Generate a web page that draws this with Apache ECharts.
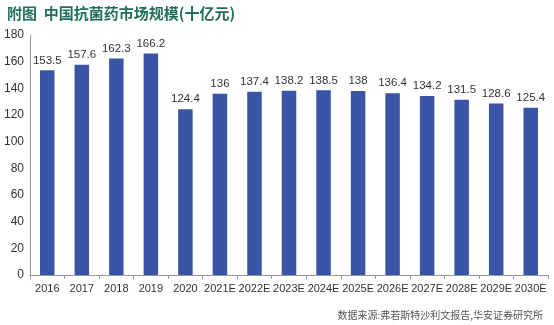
<!DOCTYPE html>
<html><head><meta charset="utf-8">
<script src="https://cdn.jsdelivr.net/npm/echarts@6/dist/echarts.min.js"></script>
<style>html,body{margin:0;padding:0;background:#fff}#c{width:554px;height:325px}</style>
</head><body><div id="c"></div>
<script>
var categories = ['2016','2017','2018','2019','2020','2021E','2022E','2023E','2024E','2025E','2026E','2027E','2028E','2029E','2030E'];
var values = [153.5,157.6,162.3,166.2,124.4,136,137.4,138.2,138.5,138,136.4,134.2,131.5,128.6,125.4];
var titleText = '附图  中国抗菌药市场规模(十亿元)';
var sourceText = '数据来源:弗若斯特沙利文报告,华安证券研究所';
var fam = 'Liberation Sans, Arial, sans-serif';
var chart = echarts.init(document.getElementById('c'));
chart.setOption({
  animation:false,
  title:[{text:titleText,left:2,top:1,textStyle:{color:'#1f6f5c',fontSize:15,fontWeight:'bold',fontFamily:'"Noto Sans CJK SC",sans-serif'}},
         {text:sourceText,right:6,top:305,textStyle:{color:'#555',fontSize:10,fontWeight:'normal',fontFamily:'"Noto Sans CJK SC",sans-serif'}}],
  grid:{left:30,right:6,top:35,bottom:50},
  xAxis:{type:'category',data:categories,
    axisLine:{lineStyle:{color:'#999'}},
    axisTick:{show:true,length:4,lineStyle:{color:'#999'}},
    axisLabel:{color:'#333',fontSize:11,fontFamily:fam,margin:8,interval:0}},
  yAxis:{type:'value',min:0,max:180,interval:20,
    axisLine:{show:true,lineStyle:{color:'#999'}},
    axisTick:{show:false},splitLine:{show:false},
    axisLabel:{color:'#333',fontSize:12,fontFamily:fam,margin:6}},
  series:[{type:'bar',data:values,barWidth:'42%',
    itemStyle:{color:'#3a55a6'},
    label:{show:true,position:'top',color:'#333',fontSize:11.5,fontFamily:fam,distance:4}}]
});
</script></body></html>
